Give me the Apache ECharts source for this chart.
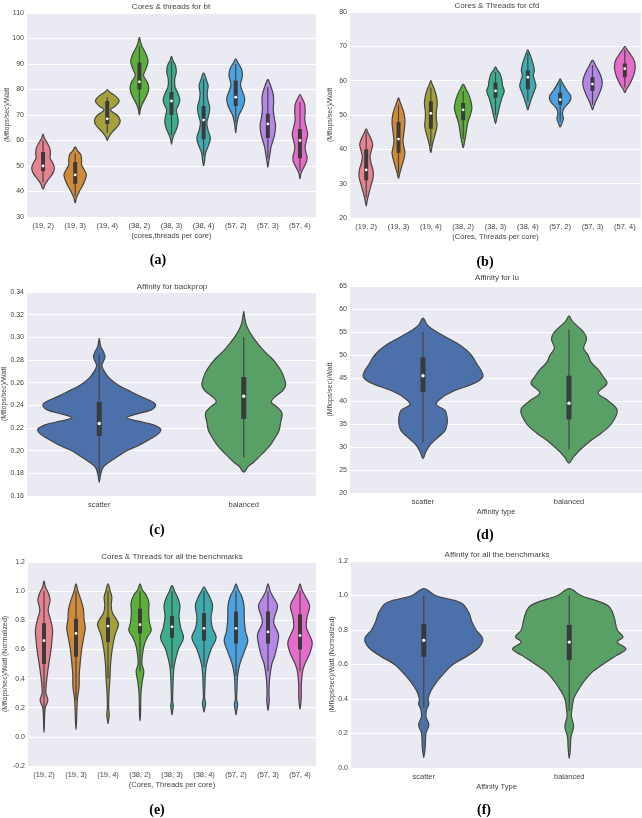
<!DOCTYPE html>
<html>
<head>
<meta charset="utf-8">
<script src="https://cdn.jsdelivr.net/npm/echarts@6/dist/echarts.min.js"></script>
<style>
  html, body { margin: 0; padding: 0; background: #fff; }
  #main { width: 642px; height: 818px; }
</style>
</head>
<body>
<div id="main"></div>
<script>
// categories
const coreCats = ['(19, 2)', '(19, 3)', '(19, 4)', '(38, 2)', '(38, 3)', '(38, 4)', '(57, 2)', '(57, 3)', '(57, 4)'];
const affinityCats = ['scatter', 'balanced'];

// violin profiles: [value, half width as share of the category band], low -> high
// boxes: [whisker low, q1, median, q3, whisker high]

// (a) bt
const btProfiles = [
  [[41,0],[43,0.07],[45,0.18],[47.5,0.32],[49.5,0.35],[51.5,0.29],[53,0.22],[55,0.23],[57,0.21],[59,0.13],[61,0.04],[62.5,0]],
  [[35.5,0],[37.5,0.04],[40,0.13],[43,0.26],[46.5,0.35],[48.5,0.28],[50.5,0.2],[52.5,0.2],[54.5,0.17],[56,0.07],[57.5,0]],
  [[60,0],[61.5,0.05],[63.5,0.17],[66,0.35],[68,0.4],[70,0.3],[72,0.1],[73.5,0.25],[75.5,0.37],[77.5,0.25],[79,0.07],[80,0]],
  [[70,0],[72,0.03],[74,0.08],[77,0.2],[79,0.27],[81,0.29],[83,0.24],[85.5,0.13],[88,0.2],[91,0.27],[94,0.2],[97,0.08],[99,0.03],[100.5,0]],
  [[58.5,0],[60.5,0.03],[62,0.07],[65,0.17],[67.5,0.21],[70,0.18],[72,0.15],[74,0.22],[76,0.26],[78.5,0.2],[81,0.11],[84,0.1],[87,0.15],[89.5,0.12],[91.5,0.04],[93,0]],
  [[50,0],[52,0.03],[55,0.06],[58,0.15],[61,0.21],[64,0.14],[67,0.1],[70,0.16],[73,0.19],[76,0.13],[78.5,0.11],[81.5,0.14],[84,0.08],[86.5,0]],
  [[63,0],[65,0.02],[67.5,0.05],[70,0.1],[73,0.22],[76.5,0.28],[79.5,0.2],[82,0.15],[85.5,0.21],[88,0.18],[90.5,0.07],[92,0]],
  [[49.5,0],[52,0.03],[55,0.07],[57.5,0.1],[60,0.16],[63,0.22],[66,0.24],[69,0.2],[72,0.17],[75,0.18],[78,0.17],[81,0.1],[83,0.04],[84,0]],
  [[45,0],[47,0.03],[49,0.1],[51.5,0.2],[53.5,0.22],[55.5,0.18],[57.5,0.16],[60,0.2],[62.5,0.24],[65,0.2],[68,0.15],[71,0.16],[74,0.15],[76.5,0.07],[78,0]]
];
const btBoxes = [
  [43.5,48,50,55.5,60], [38,43,46.5,51.5,55], [63,66.5,68.5,75.5,77], [72,80,83,90.5,97],
  [62,70,75.5,79,91], [54,60.5,68,73.5,84], [67,73.5,77,83.5,90], [53,61,66.5,70.5,81], [48,53,60,64.5,75]
];

// (b) cfd
const cfdProfiles = [
  [[23.5,0],[25,0.03],[27,0.08],[29.5,0.15],[32,0.22],[34,0.21],[36,0.15],[38,0.12],[40,0.17],[41.5,0.2],[43,0.15],[45,0.05],[46,0]],
  [[31.5,0],[33,0.04],[35,0.1],[37,0.16],[39,0.2],[41,0.16],[42.5,0.14],[45,0.17],[48,0.2],[50.5,0.17],[52.5,0.1],[54,0.04],[55,0]],
  [[39,0],[41,0.04],[43,0.09],[45,0.15],[47,0.19],[49,0.17],[51,0.17],[53.5,0.2],[55.5,0.17],[57.5,0.11],[59,0.04],[60,0]],
  [[40.5,0],[42,0.04],[44,0.08],[46,0.11],[48,0.15],[50,0.22],[52,0.27],[54,0.24],[56,0.17],[57.5,0.09],[59,0]],
  [[47.5,0],[49,0.04],[51,0.09],[53,0.14],[55,0.2],[57,0.27],[58.5,0.22],[60,0.2],[62,0.14],[63,0.06],[64,0]],
  [[51.5,0],[53,0.05],[55,0.12],[57,0.2],[58.5,0.25],[60.5,0.2],[61.5,0.17],[63,0.2],[65,0.16],[67,0.09],[68.5,0.03],[69,0]],
  [[46.5,0],[47.5,0.05],[49,0.1],[50.5,0.07],[52,0.12],[54,0.3],[55.5,0.33],[57,0.22],[58.5,0.12],[59.8,0.04],[60.5,0]],
  [[51.5,0],[52.5,0.04],[54,0.1],[56,0.2],[58,0.28],[59.5,0.3],[61,0.27],[63,0.18],[64.5,0.09],[66,0]],
  [[56.5,0],[57.5,0.05],[59,0.15],[61,0.25],[63,0.31],[64.5,0.32],[66,0.28],[68,0.15],[69.3,0.05],[70,0]]
];
const cfdBoxes = [
  [26,31,34,40,45], [33,39,43,48,53], [41,46,50.5,54,58], [43,48.5,51.5,53.5,57], [50,55,57,59.5,62.5],
  [54,57.5,61,63,68], [48,53,54.5,56.5,59.5], [53,57,59,61,64.5], [58,61,63.5,65,69]
];

// (c) backprop
const backpropProfiles = [
  [[0.172,0],[0.178,0.008],[0.185,0.025],[0.19,0.07],[0.195,0.13],[0.2,0.19],[0.205,0.28],[0.21,0.35],[0.215,0.41],[0.219,0.425],[0.223,0.37],[0.226,0.27],[0.229,0.19],[0.232,0.25],[0.236,0.36],[0.24,0.39],[0.243,0.37],[0.247,0.3],[0.252,0.22],[0.258,0.13],[0.264,0.07],[0.27,0.035],[0.275,0.018],[0.279,0.03],[0.283,0.04],[0.287,0.03],[0.292,0.01],[0.299,0]],
  [[0.181,0],[0.186,0.03],[0.19,0.07],[0.195,0.11],[0.2,0.15],[0.206,0.19],[0.212,0.22],[0.218,0.245],[0.225,0.255],[0.233,0.265],[0.238,0.235],[0.243,0.19],[0.248,0.22],[0.253,0.27],[0.258,0.29],[0.264,0.28],[0.27,0.26],[0.276,0.23],[0.282,0.19],[0.288,0.14],[0.294,0.1],[0.3,0.065],[0.306,0.035],[0.312,0.015],[0.318,0.006],[0.323,0]]
];
const backpropBoxes = [[0.18,0.213,0.224,0.243,0.285], [0.194,0.228,0.248,0.265,0.3]];

// (d) lu
const luProfiles = [
  [[27.5,0],[29,0.02],[30.5,0.05],[32,0.1],[33.5,0.15],[35,0.165],[36.5,0.165],[38,0.15],[39.2,0.09],[40.5,0.12],[42,0.2],[44,0.36],[45.3,0.41],[46.5,0.4],[48,0.37],[50,0.33],[52,0.26],[54,0.15],[55.5,0.07],[56.5,0.03],[58,0]],
  [[26.5,0],[27.8,0.03],[29.5,0.08],[31.4,0.15],[33,0.22],[35,0.29],[38,0.33],[40,0.27],[41.8,0.2],[43.8,0.26],[45.5,0.23],[46.8,0.2],[48.5,0.15],[50,0.13],[51.5,0.1],[53.5,0.12],[55,0.1],[56.5,0.05],[57.5,0.02],[58.5,0]]
];
const luBoxes = [[31,42,45.5,49.5,55], [29.5,36,39.5,45.5,55.5]];

// (e) all benchmarks, cores & threads
const allCoreProfiles = [
  [[0.03,0],[0.08,0.012],[0.15,0.02],[0.2,0.04],[0.25,0.12],[0.3,0.06],[0.36,0.07],[0.42,0.1],[0.5,0.15],[0.6,0.22],[0.67,0.25],[0.73,0.27],[0.8,0.21],[0.87,0.13],[0.94,0.19],[0.99,0.13],[1.03,0.04],[1.07,0]],
  [[0.05,0],[0.1,0.015],[0.2,0.03],[0.27,0.05],[0.33,0.09],[0.37,0.1],[0.42,0.1],[0.48,0.12],[0.55,0.15],[0.62,0.19],[0.68,0.24],[0.75,0.29],[0.81,0.25],[0.88,0.23],[0.95,0.14],[1.0,0.06],[1.05,0]],
  [[0.09,0],[0.12,0.02],[0.15,0.04],[0.2,0.02],[0.3,0.03],[0.4,0.06],[0.5,0.08],[0.6,0.13],[0.7,0.22],[0.77,0.33],[0.8,0.28],[0.85,0.14],[0.9,0.1],[0.96,0.12],[1.0,0.07],[1.05,0]],
  [[0.11,0],[0.15,0.015],[0.2,0.02],[0.3,0.03],[0.38,0.07],[0.45,0.12],[0.5,0.06],[0.55,0.07],[0.62,0.12],[0.68,0.22],[0.73,0.35],[0.78,0.3],[0.85,0.27],[0.92,0.28],[0.97,0.2],[1.01,0.07],[1.05,0]],
  [[0.15,0],[0.18,0.02],[0.21,0.04],[0.25,0.02],[0.35,0.03],[0.45,0.05],[0.5,0.08],[0.6,0.2],[0.68,0.36],[0.75,0.27],[0.83,0.22],[0.9,0.25],[0.96,0.17],[1.0,0.08],[1.04,0]],
  [[0.17,0],[0.2,0.03],[0.23,0.05],[0.27,0.02],[0.35,0.03],[0.42,0.04],[0.5,0.08],[0.6,0.22],[0.68,0.38],[0.75,0.26],[0.82,0.22],[0.9,0.27],[0.96,0.18],[1.0,0.08],[1.03,0]],
  [[0.15,0],[0.18,0.02],[0.22,0.05],[0.26,0.02],[0.32,0.03],[0.42,0.05],[0.5,0.12],[0.58,0.25],[0.66,0.37],[0.72,0.3],[0.8,0.26],[0.9,0.25],[0.97,0.17],[1.01,0.07],[1.05,0]],
  [[0.18,0],[0.21,0.02],[0.25,0.04],[0.3,0.03],[0.4,0.05],[0.5,0.12],[0.55,0.2],[0.62,0.28],[0.7,0.33],[0.78,0.18],[0.82,0.2],[0.9,0.3],[0.96,0.16],[1.0,0.07],[1.05,0]],
  [[0.19,0],[0.22,0.02],[0.27,0.04],[0.35,0.04],[0.45,0.08],[0.5,0.15],[0.57,0.3],[0.65,0.38],[0.75,0.2],[0.82,0.22],[0.9,0.3],[0.97,0.15],[1.01,0.06],[1.05,0]]
];
const allCoreBoxes = [
  [0.12,0.5,0.66,0.78,1.0], [0.25,0.55,0.71,0.81,1.0], [0.4,0.65,0.76,0.82,1.0], [0.45,0.71,0.77,0.88,1.0],
  [0.47,0.68,0.755,0.83,1.0], [0.48,0.66,0.745,0.85,1.0], [0.42,0.64,0.745,0.86,1.0], [0.45,0.64,0.72,0.86,1.0], [0.45,0.6,0.695,0.84,1.0]
];

// (f) all benchmarks, affinity
const allAffinityProfiles = [
  [[0.06,0],[0.12,0.01],[0.2,0.015],[0.25,0.035],[0.3,0.015],[0.34,0.02],[0.37,0.035],[0.4,0.03],[0.45,0.05],[0.5,0.09],[0.55,0.14],[0.6,0.2],[0.65,0.3],[0.7,0.38],[0.75,0.405],[0.8,0.36],[0.85,0.33],[0.9,0.31],[0.95,0.27],[0.97,0.22],[1.0,0.08],[1.04,0]],
  [[0.055,0],[0.12,0.008],[0.18,0.012],[0.24,0.03],[0.3,0.015],[0.35,0.02],[0.4,0.03],[0.45,0.06],[0.5,0.1],[0.55,0.15],[0.6,0.23],[0.65,0.32],[0.69,0.39],[0.73,0.33],[0.76,0.37],[0.8,0.33],[0.87,0.31],[0.93,0.28],[0.96,0.22],[1.0,0.08],[1.04,0]]
];
const allAffinityBoxes = [[0.35,0.645,0.74,0.835,1.0], [0.33,0.625,0.73,0.83,1.0]];

const coreColors = ['#e6838f', '#d08a38', '#a5a03a', '#5bb03a', '#3cad8e', '#3daab0', '#4aa2e0', '#b487e8', '#e56ccb'];
const affinityColors = ['#4c70a9', '#58a066'];

const textColor = '#444';
const edgeColor = '#454545';

// draws one violin + inner box for data item i
function violin(profiles, boxes, colors, boxWidth, dotR) {
  return function (params, api) {
    const i = params.dataIndex;
    const band = api.size([1, 0])[0];
    const prof = profiles[i];
    const right = prof.map(([v, w]) => {
      const c = api.coord([i, v]);
      return [c[0] + w * band, c[1]];
    });
    const left = prof.slice(1, -1).reverse().map(([v, w]) => {
      const c = api.coord([i, v]);
      return [c[0] - w * band, c[1]];
    });
    const [lo, q1, med, q3, hi] = boxes[i];
    const pLo = api.coord([i, lo]), pHi = api.coord([i, hi]);
    const pQ1 = api.coord([i, q1]), pQ3 = api.coord([i, q3]);
    const pMed = api.coord([i, med]);
    return {
      type: 'group',
      children: [
        { type: 'polygon', shape: { points: right.concat(left), smooth: 0.35 },
          style: { fill: colors[i % colors.length], stroke: edgeColor, lineWidth: 1.2 } },
        { type: 'line', shape: { x1: pLo[0], y1: pLo[1], x2: pHi[0], y2: pHi[1] },
          style: { stroke: edgeColor, lineWidth: 1.2 } },
        { type: 'line', shape: { x1: pQ1[0], y1: pQ1[1], x2: pQ3[0], y2: pQ3[1] },
          style: { stroke: '#3a3a3a', lineWidth: boxWidth } },
        { type: 'circle', shape: { cx: pMed[0], cy: pMed[1], r: dotR }, style: { fill: '#fff' } }
      ]
    };
  };
}

const panels = [
  { grid: { left: 27, top: 13, width: 289, height: 204 }, cats: coreCats, prof: btProfiles, box: btBoxes, colors: coreColors,
    min: 30, max: 110, step: 10, dec: 0, yName: '(Mflops/sec)/Watt', yGap: 16.5, xName: '(cores,threads per core)', bw: 4, r: 1.4 },
  { grid: { left: 350, top: 12, width: 291, height: 206 }, cats: coreCats, prof: cfdProfiles, box: cfdBoxes, colors: coreColors,
    min: 20, max: 80, step: 10, dec: 0, yName: '(Mflops/sec)/Watt', yGap: 16.5, xName: '(Cores, Threads per core)', bw: 4, r: 1.4 },
  { grid: { left: 27, top: 292, width: 289, height: 204 }, cats: affinityCats, prof: backpropProfiles, box: backpropBoxes, colors: affinityColors,
    min: 0.16, max: 0.34, step: 0.02, dec: 2, yName: '(Mflops/sec)/Watt', yGap: 19.5, xName: '', bw: 5, r: 1.7 },
  { grid: { left: 350, top: 286, width: 292, height: 207 }, cats: affinityCats, prof: luProfiles, box: luBoxes, colors: affinityColors,
    min: 20, max: 65, step: 5, dec: 0, yName: '(Mflops/sec)/Watt', yGap: 16.5, xName: 'Affinity type', bw: 5, r: 1.7 },
  { grid: { left: 28, top: 562, width: 288, height: 204 }, cats: coreCats, prof: allCoreProfiles, box: allCoreBoxes, colors: coreColors,
    min: -0.2, max: 1.2, step: 0.2, dec: 1, yName: '(Mflops/sec)/Watt (Normalized)', yGap: 19.5, xName: '(Cores, Threads per core)', bw: 4, r: 1.4 },
  { grid: { left: 351, top: 561, width: 291, height: 207 }, cats: affinityCats, prof: allAffinityProfiles, box: allAffinityBoxes, colors: affinityColors,
    min: 0, max: 1.2, step: 0.2, dec: 1, yName: '(Mflops/sec)/Watt (Normalized)', yGap: 15.5, xName: 'Affinity Type', bw: 5, r: 1.7 }
];

const titles = [
  ['Cores & threads for bt', 171, 7],
  ['Cores & Threads for cfd', 497, 6],
  ['Affinity for backprop', 172, 287],
  ['Affinity for lu', 497, 278],
  ['Cores & Threads for all the benchmarks', 172, 557],
  ['Affinity for all the benchmarks', 497, 555]
];
const panelTags = [['(a)', 158, 260], ['(b)', 485, 262], ['(c)', 157, 530], ['(d)', 485, 535], ['(e)', 157, 810], ['(f)', 484, 810]];

const chart = echarts.init(document.getElementById('main'), null, { renderer: 'canvas' });

chart.setOption({
  animation: false,
  backgroundColor: '#fff',
  textStyle: { fontFamily: 'Liberation Sans, Arial, sans-serif' },
  grid: panels.map(p => Object.assign({ show: true, backgroundColor: '#eaeaf2', borderWidth: 0, outerBoundsMode: 'none' }, p.grid)),
  xAxis: panels.map((p, k) => ({
    gridIndex: k, type: 'category', data: p.cats,
    axisLine: { show: false }, axisTick: { show: false }, splitLine: { show: false },
    axisLabel: { fontSize: 7.5, color: textColor, margin: 5, interval: 0 },
    name: p.xName, nameLocation: 'middle', nameGap: 15, nameMoveOverlap: false,
    nameTextStyle: { fontSize: 7.5, color: textColor }
  })),
  yAxis: panels.map((p, k) => ({
    gridIndex: k, type: 'value', min: p.min, max: p.max, interval: p.step,
    axisLine: { show: false }, axisTick: { show: false },
    splitLine: { lineStyle: { color: '#fff', width: 1 } },
    axisLabel: { fontSize: 7, color: textColor, margin: 3, formatter: v => v.toFixed(p.dec) },
    name: p.yName, nameLocation: 'middle', nameGap: p.yGap, nameMoveOverlap: false,
    nameTextStyle: { fontSize: 7, color: textColor }
  })),
  series: panels.map((p, k) => ({
    type: 'custom', xAxisIndex: k, yAxisIndex: k, silent: true,
    data: p.cats.map((c, i) => [i, p.box[i][2]]),
    encode: { x: 0, y: 1 },
    renderItem: violin(p.prof, p.box, p.colors, p.bw, p.r)
  })),
  graphic: titles.map(([t, x, y]) => ({
    type: 'text', x: x, y: y, silent: true,
    style: { text: t, fill: textColor, font: '8px "Liberation Sans", Arial, sans-serif', textAlign: 'center', textVerticalAlign: 'middle' }
  })).concat(panelTags.map(([t, x, y]) => ({
    type: 'text', x: x, y: y, silent: true,
    style: { text: t, fill: '#000', font: 'bold 14px "Liberation Serif", "Times New Roman", serif', textAlign: 'center', textVerticalAlign: 'middle' }
  })))
});
</script>
</body>
</html>
